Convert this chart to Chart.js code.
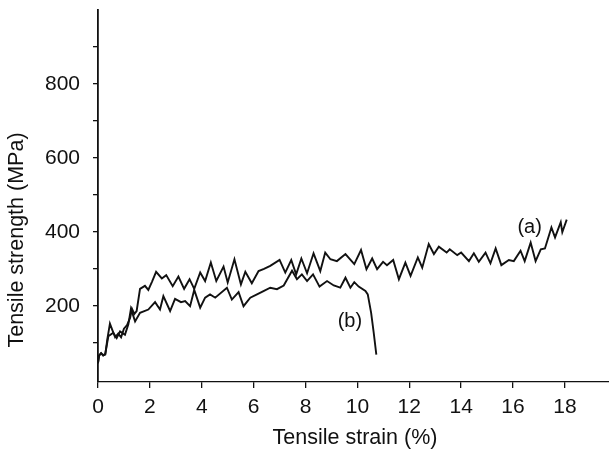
<!DOCTYPE html>
<html>
<head>
<meta charset="utf-8">
<script src="https://cdn.jsdelivr.net/npm/chart.js@4"></script>
<style>
  html, body { margin: 0; padding: 0; background: #fff; }
  #wrap { width: 609px; height: 449px; position: relative; }
</style>
</head>
<body>
<div id="wrap"><canvas id="chart"></canvas></div>
<script>
// curve (a)
const strainA = [0, 0.04, 0.12, 0.2, 0.28, 0.36, 0.46, 0.55, 0.66, 0.78, 0.89, 1.0, 1.12, 1.24, 1.31, 1.4, 1.49, 1.62, 1.81, 1.94,
  2.08, 2.24, 2.46, 2.63, 2.88, 3.1, 3.32, 3.53, 3.71, 3.94, 4.13, 4.35, 4.56, 4.84, 5.0, 5.26, 5.51, 5.68, 5.93, 6.19,
  6.4, 6.64, 7.0, 7.22, 7.45, 7.64, 7.84, 8.06, 8.31, 8.57, 8.76, 8.96, 9.21, 9.54, 9.88, 10.14, 10.35, 10.57, 10.76, 10.99,
  11.14, 11.38, 11.6, 11.85, 12.05, 12.33, 12.5, 12.75, 12.95, 13.14, 13.44, 13.56, 13.85, 14.0, 14.3, 14.49, 14.68, 14.94, 15.13, 15.33,
  15.55, 15.84, 16.03, 16.29, 16.45, 16.68, 16.87, 17.07, 17.23, 17.48, 17.62, 17.84, 17.9, 18.07];
const stressA = [45, 65, 72, 66, 68, 110, 152, 135, 115, 125, 115, 138, 148, 168, 192, 178, 186, 246, 254, 243,
  265, 292, 274, 283, 253, 279, 246, 272, 246, 290, 267, 317, 267, 306, 263, 326, 258, 292, 261, 294,
  300, 308, 324, 290, 324, 285, 328, 288, 342, 294, 344, 326, 321, 340, 313, 351, 299, 328, 299, 319,
  310, 324, 272, 317, 281, 331, 303, 367, 340, 360, 344, 353, 337, 344, 321, 342, 319, 344, 315, 355,
  310, 324, 321, 349, 321, 371, 321, 353, 355, 412, 385, 426, 399, 433];

// curve (b)
const strainB = [0, 0.04, 0.12, 0.2, 0.28, 0.4, 0.59, 0.72, 0.85, 1.04, 1.17, 1.27, 1.43, 1.62, 1.94, 2.2, 2.39, 2.52, 2.78, 2.97,
  3.2, 3.36, 3.55, 3.71, 3.94, 4.13, 4.32, 4.52, 4.97, 5.16, 5.42, 5.61, 5.87, 6.13, 6.38, 6.64, 6.9, 7.16, 7.48, 7.67,
  7.86, 8.06, 8.29, 8.54, 8.83, 9.09, 9.34, 9.54, 9.73, 9.88, 10.05, 10.31, 10.4, 10.53, 10.63, 10.73];
const stressB = [45, 65, 72, 66, 70, 118, 127, 113, 131, 122, 150, 192, 158, 181, 190, 210, 190, 226, 186, 219,
  210, 213, 199, 243, 195, 222, 231, 222, 249, 217, 237, 199, 222, 231, 240, 249, 245, 255, 295, 272,
  285, 267, 285, 252, 267, 255, 249, 276, 249, 264, 252, 240, 231, 181, 127, 68];

const xTicks = [0, 2, 4, 6, 8, 10, 12, 14, 16, 18];
const yTicks = [100, 200, 300, 400, 500, 600, 700, 800, 900];
const yLabelled = [200, 400, 600, 800];

// curve labels: text, strain, stress
const curveNames = ['(a)', '(b)'];
const nameX = [16.64, 9.71];
const nameY = [413, 158];

const toPoints = (xs, ys) => xs.map((x, i) => ({ x: x, y: ys[i] }));

const FONT = '"Liberation Sans", Arial, sans-serif';

// axis titles (the y one sits lower than the axis middle) and curve names
const textPlugin = {
  id: 'texts',
  afterDraw(chart) {
    const ctx = chart.ctx;
    const xs = chart.scales.x, ys = chart.scales.y;
    ctx.save();
    ctx.fillStyle = '#111';
    ctx.textAlign = 'center';
    ctx.textBaseline = 'middle';
    ctx.font = '20px ' + FONT;
    curveNames.forEach((t, i) => {
      ctx.fillText(t, xs.getPixelForValue(nameX[i]), ys.getPixelForValue(nameY[i]));
    });
    ctx.font = '21.5px ' + FONT;
    ctx.fillText('Tensile strain (%)', 355, 438);
    ctx.translate(17, 240);
    ctx.rotate(-Math.PI / 2);
    ctx.fillText('Tensile strength (MPa)', 0, 0);
    ctx.restore();
  }
};

new Chart(document.getElementById('chart'), {
  type: 'line',
  data: {
    datasets: [{
      label: '(a)',
      data: toPoints(strainA, stressA),
      borderColor: '#111',
      borderWidth: 1.9,
      pointRadius: 0,
      tension: 0
    }, {
      label: '(b)',
      data: toPoints(strainB, stressB),
      borderColor: '#111',
      borderWidth: 1.9,
      pointRadius: 0,
      tension: 0
    }]
  },
  options: {
    responsive: true,
    maintainAspectRatio: false,
    animation: false,
    layout: { padding: { top: 10, left: 0, right: 0, bottom: 0 } },
    scales: {
      x: {
        type: 'linear',
        min: 0,
        max: 19.7,
        afterBuildTicks: (scale) => { scale.ticks = xTicks.map(v => ({ value: v })); },
        afterFit: (scale) => { scale.height = 67; scale.paddingLeft = 0; scale.paddingRight = 0; },
        grid: { drawOnChartArea: false, drawTicks: true, tickLength: 6, color: '#111', lineWidth: 1.3 },
        border: { color: '#111', width: 1.3 },
        ticks: { color: '#111', font: { family: FONT, size: 21 }, padding: 7, maxRotation: 0 }
      },
      y: {
        type: 'linear',
        min: -6,
        max: 1000,
        afterBuildTicks: (scale) => { scale.ticks = yTicks.map(v => ({ value: v })); },
        afterFit: (scale) => { scale.width = 98; scale.paddingTop = 0; scale.paddingBottom = 0; },
        grid: { drawOnChartArea: false, drawTicks: true, tickLength: 5, color: '#111', lineWidth: 1.3 },
        border: { color: '#111', width: 1.8 },
        ticks: {
          color: '#111',
          font: { family: FONT, size: 21 },
          padding: 13,
          callback: (v) => yLabelled.includes(v) ? String(v) : ''
        }
      }
    },
    plugins: {
      legend: { display: false },
      tooltip: { enabled: false }
    }
  },
  plugins: [textPlugin]
});
</script>
</body>
</html>
